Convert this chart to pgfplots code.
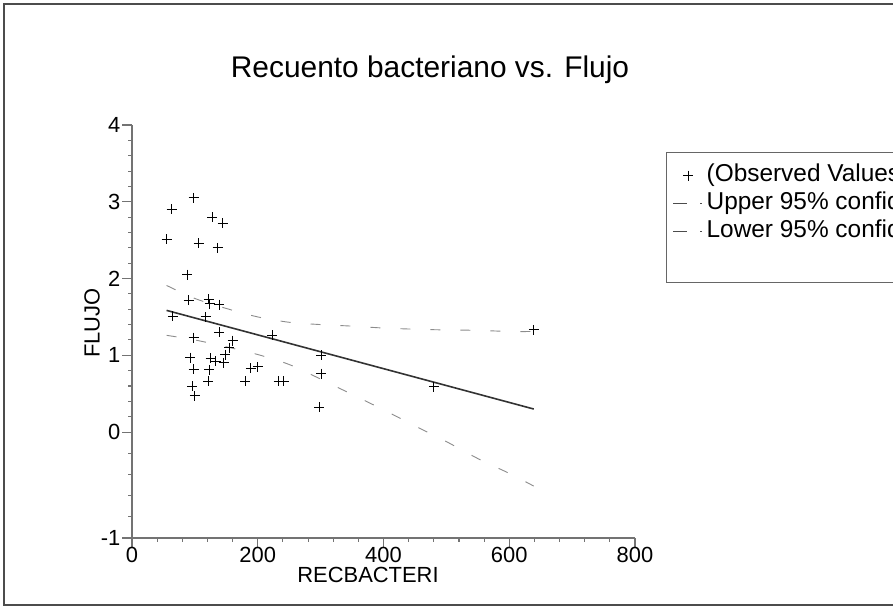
\documentclass[border=0pt]{standalone}
\usepackage{fontspec}
\setmainfont{Liberation Sans}
\usepackage{pgfplots}
\pgfplotsset{compat=1.18}
\pgfplotstableread{
x y
55 2.51
63 2.90
98 3.05
128 2.80
144 2.72
106 2.46
136 2.40
88 2.05
90 1.72
122 1.73
124 1.67
139 1.66
65 1.51
117 1.50
139 1.30
98 1.23
160 1.19
155 1.10
148 1.01
93 0.97
125 0.96
133 0.92
146 0.90
98 0.82
123 0.81
189 0.83
200 0.85
121 0.66
180 0.66
233 0.66
241 0.66
96 0.60
100 0.47
223 1.26
298 0.32
301 1.00
301 0.76
480 0.59
639 1.33
}\obs
\pgfplotstableread{
x up lo
55 1.91 1.26
100 1.74 1.20
150 1.61 1.11
200 1.50 1.01
250 1.43 0.88
300 1.40 0.69
350 1.38 0.49
400 1.355 0.29
450 1.34 0.08
500 1.33 -0.09
550 1.325 -0.25
600 1.31 -0.39
639 1.31 -0.51
}\ci
\begin{document}
\begin{tikzpicture}
\useasboundingbox (0,0) rectangle (893bp,609bp);
\clip (0,0) rectangle (893bp,609bp);
\draw[black!70, line width=1.5bp] (4bp,4bp) rectangle (905bp,605bp);
\node[font=\fontsize{30}{34}\selectfont] at (430bp,539bp) {Recuento bacteriano vs. Flujo};
\begin{axis}[
  at={(132bp,71bp)}, anchor=south west,
  scale only axis, width=503bp, height=413bp,
  xmin=0, xmax=800, ymin=-1, ymax=4,
  y coord trafo/.code={\pgfmathparse{#1<0 ? 1.38*#1 : #1}},
  y coord inv trafo/.code={\pgfmathparse{#1<0 ? #1/1.38 : #1}},
  axis lines=left,
  axis line style={-, black!55, line width=1.3bp},
  xtick={0,200,400,600,800}, ytick={-1,0,1,2,3,4},
  yticklabels={-1,0,1,2,3,4},
  minor x tick num=4,
  minor ytick={-0.8,-0.6,-0.4,-0.2,0.2,0.4,0.6,0.8,1.2,1.4,1.6,1.8,2.2,2.4,2.6,2.8,3.2,3.4,3.6,3.8},
  tick align=outside,
  major tick length=10bp, minor tick length=4bp,
  tick style={black!55, line width=1.1bp},
  /pgf/number format/assume math mode=true,
  ticklabel style={font=\fontsize{22}{26}\selectfont, text=black},
  xticklabel style={inner sep=1bp, yshift=2bp},
  yticklabel style={inner sep=1.5bp},
  xlabel={RECBACTERI}, ylabel={FLUJO},
  every axis x label/.style={at={(axis description cs:0.4692,-0.0895)}, anchor=center, font=\fontsize{22}{26}\selectfont},
  every axis y label/.style={at={(axis description cs:-0.0795,0.52)}, anchor=center, rotate=90, font=\fontsize{22}{26}\selectfont},
  legend style={at={(axis description cs:1.0616,0.9346)}, anchor=north west,
    draw=black!60, line width=1.3bp, font=\fontsize{24.5}{28}\selectfont,
    inner xsep=6bp, inner ysep=9bp,
    nodes={text height=17bp, text depth=5bp, inner sep=3bp}},
  legend cell align=left,
  legend image code/.code={\draw[mark repeat=2,mark phase=2,#1] plot coordinates {(0bp,0bp) (15bp,0bp) (30bp,0bp)};},
]
\addplot[only marks, mark=+, mark size=5bp, black, line width=1bp] table[x=x,y=y] {\obs};
\addlegendentry{(Observed Values)}
\addplot[forget plot, black!80, line width=1.6bp] coordinates {(55,1.585) (639,0.30)};
\addplot[smooth, black!45, line width=0.9bp, dash pattern=on 10bp off 20bp,
  legend image code/.code={\draw[black!70, line width=1bp, dash pattern=on 14bp off 13bp on 1.5bp off 20bp] (0bp,0bp) -- (30bp,0bp);}] table[x=x,y=up] {\ci};
\addlegendentry{Upper 95\% confidence limit}
\addplot[smooth, black!45, line width=0.9bp, dash pattern=on 10bp off 20bp,
  legend image code/.code={\draw[black!70, line width=1bp, dash pattern=on 14bp off 13bp on 1.5bp off 20bp] (0bp,0bp) -- (30bp,0bp);}] table[x=x,y=lo] {\ci};
\addlegendentry{Lower 95\% confidence limit}
\addlegendimage{empty legend}
\addlegendentry{}
\end{axis}
\end{tikzpicture}
\end{document}
